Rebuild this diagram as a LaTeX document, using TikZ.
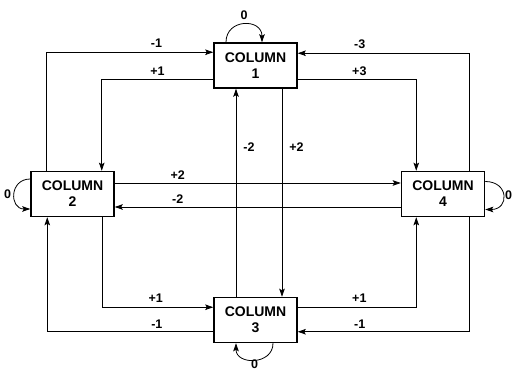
\documentclass[tikz,border=0pt]{standalone}
\usepackage{fontspec}
\setmainfont{Liberation Sans}
\usetikzlibrary{arrows.meta, calc}

\begin{document}
\begin{tikzpicture}[
  x=1pt, y=1pt,
  >={Stealth[length=8pt, width=5.5pt, inset=1.5pt]},
  colbox/.style={draw, line width=1.5pt, minimum width=83pt, minimum height=45pt,
                 inner sep=0pt, align=center, font=\fontsize{14}{16}\selectfont\bfseries},
  link/.style={->, line width=0.8pt},
  lbl/.style={font=\fontsize{12.5}{13}\selectfont\bfseries, inner sep=1pt},
]
  \useasboundingbox (0,0) rectangle (512,372);

  % Columns
  \node[colbox] (c1) at (255.5,306.5) {COLUMN\\1};
  \node[colbox] (c2) at (72.5,178)    {COLUMN\\2};
  \node[colbox] (c3) at (255.5,52)    {COLUMN\\3};
  \node[colbox] (c4) at (443,178)     {COLUMN\\4};

  % Upper connections
  \draw[link] ([xshift=16pt]c2.north west) |- ([yshift=-10pt]c1.north west)
    node[lbl, pos=0.83, above=3pt] {-1};
  \draw[link] ([yshift=9pt]c1.south west) -| ([xshift=-13pt]c2.north east)
    node[lbl, pos=0.25, above=3pt] {+1};
  \draw[link] ([xshift=-15.5pt]c4.north east) |- ([yshift=-11pt]c1.north east)
    node[lbl, pos=0.82, above=3pt] {-3};
  \draw[link] ([yshift=9pt]c1.south east) -| ([xshift=15.5pt]c4.north west)
    node[lbl, pos=0.26, above=3pt] {+3};

  % Vertical through the middle
  \draw[link] ([xshift=-19.5pt]c3.north) -- ([xshift=-19.5pt]c1.south)
    node[lbl, pos=0.72, right=6pt] {-2};
  \draw[link] ([xshift=26.5pt]c1.south) -- ([xshift=26.5pt]c3.north)
    node[lbl, pos=0.28, right=6pt] {+2};

  % Horizontal through the middle
  \draw[link] ([yshift=11pt]c2.east) -- ([yshift=11pt]c4.west)
    node[lbl, pos=0.22, above=2pt] {+2};
  \draw[link] ([yshift=-13pt]c4.west) -- ([yshift=-13pt]c2.east)
    node[lbl, pos=0.78, above=2pt] {-2};

  % Lower connections
  \draw[link] ([xshift=-12pt]c2.south east) |- ([yshift=-10.5pt]c3.north west)
    node[lbl, pos=0.74, above=3pt] {+1};
  \draw[link] ([yshift=11.5pt]c3.south west) -| ([xshift=17pt]c2.south west)
    node[lbl, pos=0.17, above=2pt] {-1};
  \draw[link] ([yshift=-10.5pt]c3.north east) -| ([xshift=15.5pt]c4.south west)
    node[lbl, pos=0.26, above=3pt] {+1};
  \draw[link] ([xshift=-15.5pt]c4.south east) |- ([yshift=11.5pt]c3.south east)
    node[lbl, pos=0.82, above=2pt] {-1};

  % Self loops
  \draw[link] ([xshift=-29.5pt]c1.north) .. controls +(0,24pt) and +(0,24pt) ..
    ([xshift=6.5pt]c1.north) node[lbl, pos=0.5, above=3pt] {0};
  \draw[link] ([yshift=15pt]c2.west) .. controls +(-21pt,0) and +(-21pt,0) ..
    ([yshift=-15pt]c2.west) node[lbl, pos=0.5, left=2pt] {0};
  \draw[link] ([yshift=12.5pt]c4.east) .. controls +(24pt,0) and +(24pt,0) ..
    ([yshift=-15.5pt]c4.east) node[lbl, pos=0.5, right=0.5pt] {0};
  \draw[link] ([xshift=17.5pt]c3.south) .. controls +(0,-22pt) and +(0,-22pt) ..
    ([xshift=-19.5pt]c3.south) node[lbl, pos=0.5, below=-1.5pt] {0};
\end{tikzpicture}
\end{document}
